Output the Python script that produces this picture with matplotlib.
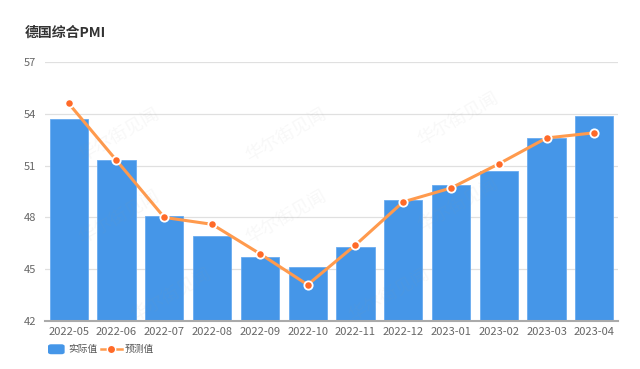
import matplotlib.pyplot as plt
import numpy as np
from matplotlib.patches import FancyBboxPatch
from matplotlib.lines import Line2D

plt.rcParams['font.family'] = ['Noto Sans CJK SC', 'DejaVu Sans']

months = ['2022-05', '2022-06', '2022-07', '2022-08', '2022-09', '2022-10',
          '2022-11', '2022-12', '2023-01', '2023-02', '2023-03', '2023-04']
actual = [53.7, 51.3, 48.1, 46.9, 45.7, 45.1, 46.3, 49.0, 49.9, 50.7, 52.6, 53.9]
forecast = [54.6, 51.3, 48.0, 47.6, 45.9, 44.1, 46.4, 48.9, 49.7, 51.1, 52.6, 52.9]
yticks = [42, 45, 48, 51, 54, 57]

fig = plt.figure(figsize=(6.4, 3.69), dpi=100)
ax = fig.add_axes([0.070, 0.130, 0.896, 0.702])

x = np.arange(len(months))
ax.bar(x, actual, width=0.8, color='#4596e8', edgecolor='#6aabf0', linewidth=0.6,
       zorder=2, label='实际值')
ax.plot(x, forecast, color='#ff9a4d', linewidth=2.2, zorder=3)
ax.plot(x, forecast, linestyle='none', marker='o', markersize=6,
        markerfacecolor='#ff6a28', markeredgecolor='white', markeredgewidth=1.3,
        zorder=4)

# faint watermarks
for wx, wy in [(0.13, 0.72), (0.42, 0.72), (0.72, 0.78), (0.13, 0.4),
               (0.42, 0.4), (0.72, 0.45), (0.22, 0.1), (0.6, 0.1)]:
    ax.text(wx, wy, '华尔街见闻', transform=ax.transAxes, fontsize=13,
            color='#999999', alpha=0.07, rotation=30, ha='center', va='center',
            zorder=5)

ax.set_xlim(-0.5, len(months) - 0.5)
ax.set_ylim(42, 57)
ax.set_yticks(yticks)
ax.set_xticks(x)
ax.set_xticklabels(months)
ax.grid(axis='y', color='#e0e0e0', linewidth=0.9, zorder=0)
ax.set_axisbelow(True)
for s in ['top', 'right', 'left']:
    ax.spines[s].set_visible(False)
ax.spines['bottom'].set_color('#aaaaaa')
ax.spines['bottom'].set_linewidth(1.5)
ax.tick_params(axis='both', length=0, labelsize=8, colors='#666666')
ax.tick_params(axis='y', pad=6)
ax.tick_params(axis='x', pad=4)

fig.text(0.039, 0.912, '德国综合PMI', fontsize=10, fontweight='bold', color='#333333',
         va='center')

# legend
fig.patches.append(FancyBboxPatch((0.075, 0.040), 0.026, 0.027,
                                  boxstyle='round,pad=0,rounding_size=0.005',
                                  transform=fig.transFigure, facecolor='#4596e8',
                                  edgecolor='none'))
fig.text(0.106, 0.053, '实际值', fontsize=7, color='#555555', va='center')
fig.lines.append(Line2D([0.158, 0.190], [0.053, 0.053], transform=fig.transFigure,
                        color='#ff9a4d', linewidth=1.8))
fig.lines.append(Line2D([0.174], [0.053], transform=fig.transFigure, marker='o',
                        markersize=6, markerfacecolor='#ff6a28', markeredgecolor='white',
                        markeredgewidth=1, linestyle='none'))
fig.text(0.195, 0.053, '预测值', fontsize=7, color='#555555', va='center')

fig.savefig('out.png', dpi=100)
